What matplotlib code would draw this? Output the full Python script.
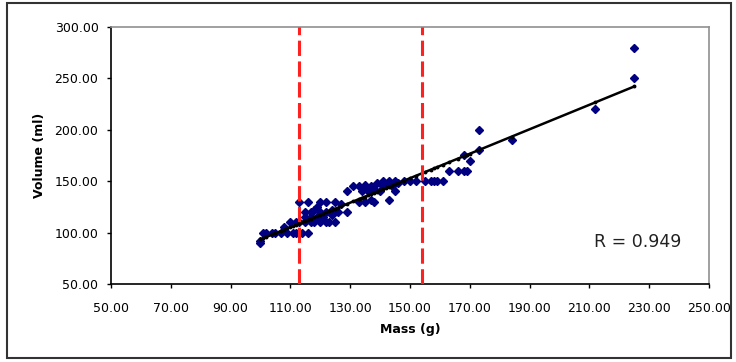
import matplotlib
matplotlib.use('Agg')

import numpy as np
import matplotlib.pyplot as plt
from matplotlib.patches import Rectangle

mass = [100, 100, 101, 102, 104, 105, 107, 108, 109, 111, 112, 114, 116,
        110, 112, 113, 115, 117, 118, 120, 122, 123, 125,
        115, 117, 119, 121, 124,
        115, 117, 118, 120, 122, 124, 126, 129, 119,
        113, 116, 120, 122, 125, 127, 133, 135, 137, 138, 143,
        129, 134, 136, 138, 140, 145, 141,
        131, 133, 135, 137, 139, 142, 144, 146,
        141, 143, 145, 148, 150, 152, 155, 157, 159, 161, 158,
        163, 166, 168, 169,
        170, 168, 173, 173, 184, 212, 225, 225]
volume = [90, 92, 100, 100, 100, 100, 100, 105, 100, 100, 100, 100, 100,
          110, 110, 110, 110, 110, 110, 110, 110, 110, 110,
          115, 115, 115, 115, 117,
          120, 120, 122, 120, 120, 122, 120, 120, 125,
          130, 130, 130, 130, 130, 128, 130, 130, 132, 130, 132,
          140, 140, 140, 142, 140, 140, 145,
          145, 145, 146, 145, 148, 146, 145, 148,
          150, 150, 150, 150, 150, 150, 150, 150, 150, 150, 150,
          160, 160, 160, 160,
          170, 175, 180, 200, 190, 220, 250, 280]

cutoffs = [113, 154]
r_text = "R = 0.949"

x = np.array(mass, dtype=float)
y = np.array(volume, dtype=float)
slope, intercept = np.polyfit(x, y, 1)
fit_x = np.unique(x)
fit_y = slope * fit_x + intercept

fig = plt.figure(figsize=(7.36, 3.62), dpi=100)
ax = fig.add_axes([0.1508, 0.2155, 0.8125, 0.7099])

ax.plot(x, y, linestyle='none', marker='D', markersize=3.8,
        color='#000080', zorder=3)
ax.plot(fit_x, fit_y, color='black', linewidth=1.8, marker='o',
        markersize=1.8, zorder=4)
for c in cutoffs:
    ax.axvline(c, color='#ff2020', linewidth=2.2, dashes=(5, 1.8), zorder=5)

ax.text(0.88, 0.165, r_text, transform=ax.transAxes, ha='center',
        va='center', fontsize=12.5, color='#222222')

ax.set_xlim(50, 250)
ax.set_ylim(50, 300)
ax.set_xticks(np.arange(50, 251, 20))
ax.set_yticks(np.arange(50, 301, 50))
ax.xaxis.set_major_formatter(plt.FormatStrFormatter('%.2f'))
ax.yaxis.set_major_formatter(plt.FormatStrFormatter('%.2f'))
ax.tick_params(direction='out', length=3, width=1, labelsize=9,
               colors='black')
ax.tick_params(axis='x', pad=10)
ax.tick_params(axis='y', pad=6)

for side in ['left', 'bottom']:
    ax.spines[side].set_color('black')
    ax.spines[side].set_linewidth(1.2)
for side in ['top', 'right']:
    ax.spines[side].set_color('#909090')
    ax.spines[side].set_linewidth(1.2)

ax.set_xlabel("Mass (g)", fontsize=9, fontweight='bold', labelpad=6)
ax.set_ylabel("Volume (ml)", fontsize=9, fontweight='bold', labelpad=6)

# outer chart border
fig.patches.append(Rectangle((7 / 736, 4 / 362), 724 / 736, 355 / 362,
                             transform=fig.transFigure, fill=False,
                             edgecolor='#333333', linewidth=1.5))

fig.savefig("out.png", dpi=100)
plt.close(fig)
